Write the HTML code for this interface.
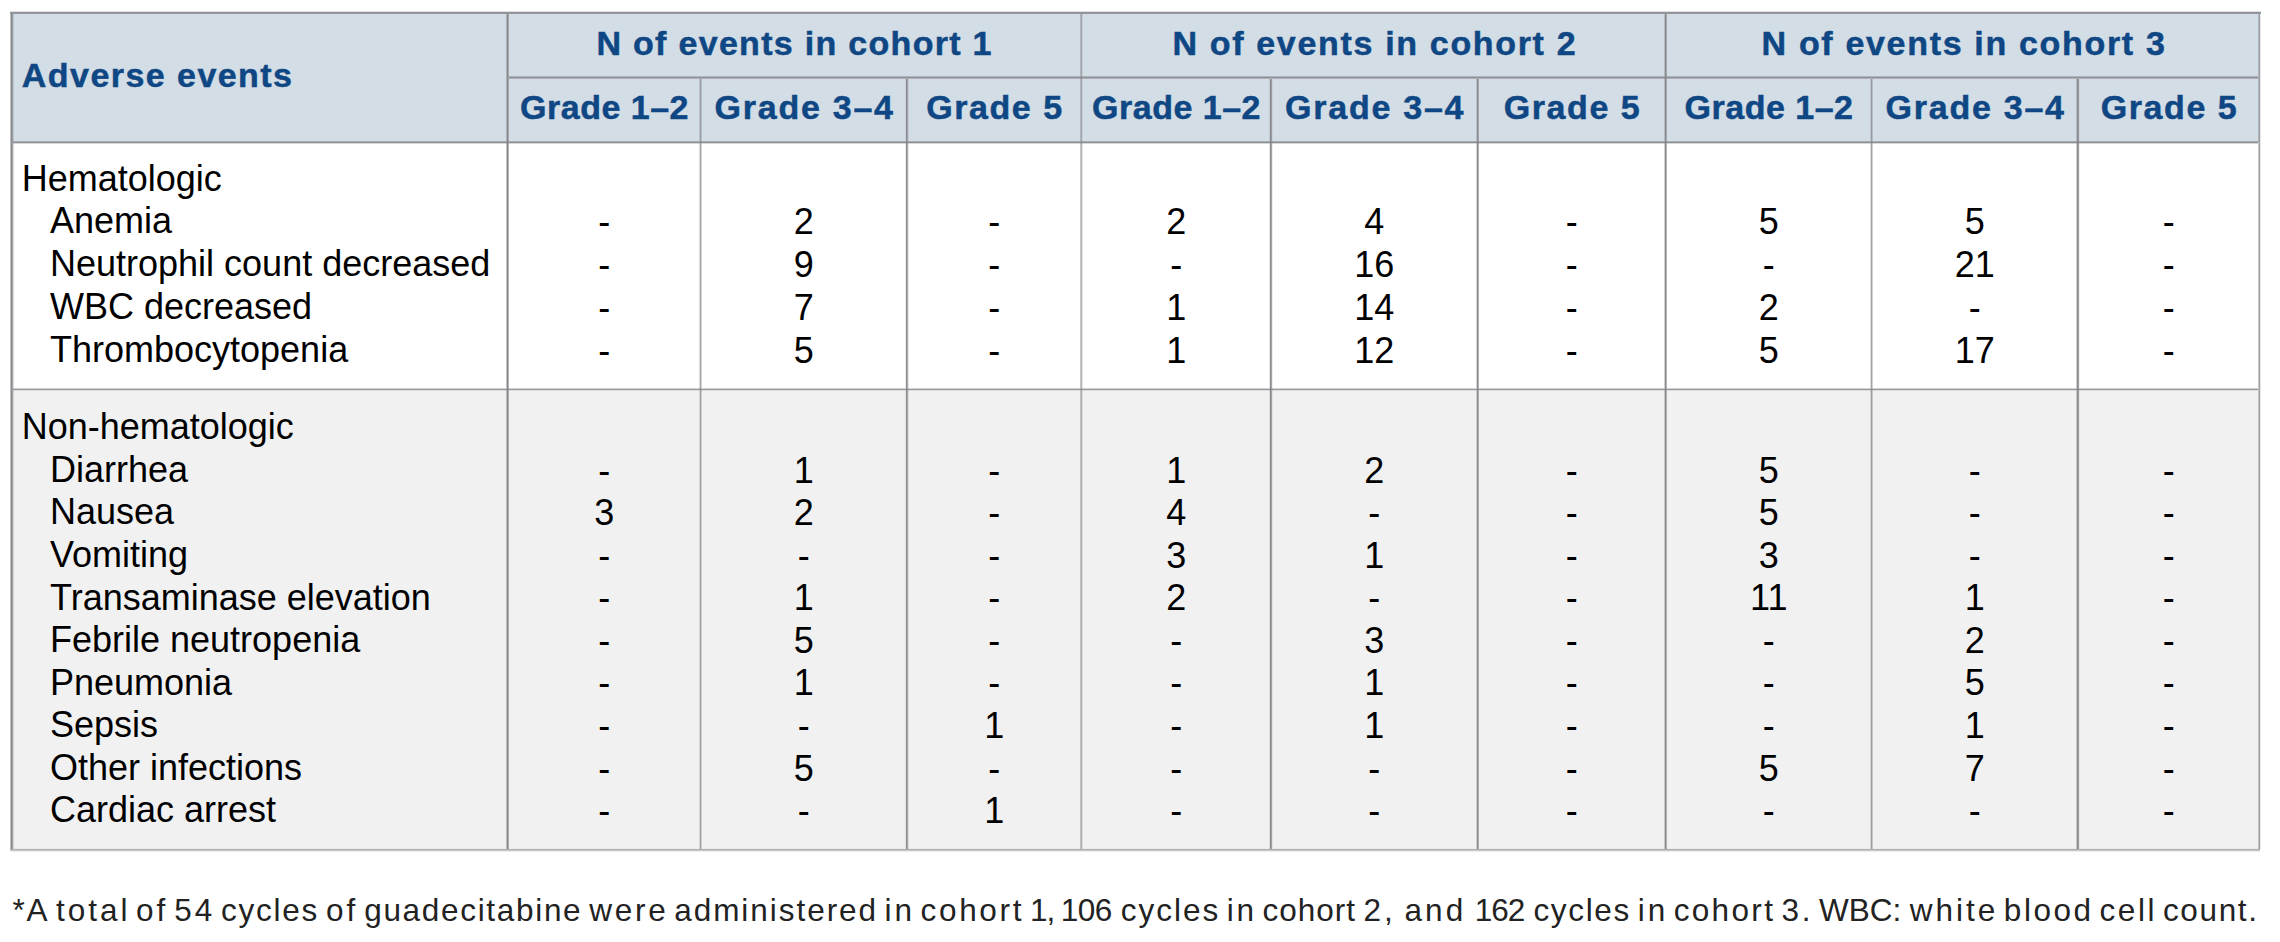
<!DOCTYPE html>
<html><head><meta charset="utf-8"><style>
html,body{margin:0;padding:0;background:#fff;}
body{width:2280px;height:942px;position:relative;overflow:hidden;font-family:"Liberation Sans",sans-serif;}
.t{position:absolute;white-space:nowrap;}
.b{font-size:36px;line-height:40.21px;color:#000;}
.f{font-size:31.5px;line-height:35.19px;color:#222;}
.h{font-size:34px;line-height:37.98px;font-weight:700;color:#0f4784;-webkit-text-stroke:0.5px #0f4784;}
.c{width:1000px;text-align:center;}
</style></head><body>
<div style="position:absolute;left:11px;top:12px;width:2248px;height:130px;background:#d3dde6"></div>
<div style="position:absolute;left:11px;top:389px;width:2248px;height:461px;background:#f1f1f1"></div>
<div style="position:absolute;left:506px;top:14px;width:3px;height:835px;background:linear-gradient(90deg,rgba(134,135,139,0.48) 0px 1px,rgba(134,135,139,1.0) 1px 2px,rgba(134,135,139,0.62) 2px 3px)"></div>
<div style="position:absolute;left:1080px;top:14px;width:3px;height:835px;background:linear-gradient(90deg,rgba(134,135,139,0.46) 0px 1px,rgba(134,135,139,0.63) 1px 2px,rgba(134,135,139,0.19) 2px 3px)"></div>
<div style="position:absolute;left:1664px;top:14px;width:3px;height:835px;background:linear-gradient(90deg,rgba(134,135,139,0.39) 0px 1px,rgba(134,135,139,0.97) 1px 2px,rgba(134,135,139,0.61) 2px 3px)"></div>
<div style="position:absolute;left:699px;top:79px;width:3px;height:770px;background:linear-gradient(90deg,rgba(134,135,139,0.29) 0px 1px,rgba(134,135,139,0.74) 1px 2px,rgba(134,135,139,0.37) 2px 3px)"></div>
<div style="position:absolute;left:905px;top:79px;width:4px;height:770px;background:linear-gradient(90deg,rgba(134,135,139,0.12) 0px 1px,rgba(134,135,139,0.96) 1px 2px,rgba(134,135,139,0.67) 2px 3px,rgba(134,135,139,0.21) 3px 4px)"></div>
<div style="position:absolute;left:1269px;top:79px;width:4px;height:770px;background:linear-gradient(90deg,rgba(134,135,139,0.19) 0px 1px,rgba(134,135,139,0.97) 1px 2px,rgba(134,135,139,0.74) 2px 3px,rgba(134,135,139,0.14) 3px 4px)"></div>
<div style="position:absolute;left:1476px;top:79px;width:3px;height:770px;background:linear-gradient(90deg,rgba(134,135,139,0.32) 0px 1px,rgba(134,135,139,0.97) 1px 2px,rgba(134,135,139,0.65) 2px 3px)"></div>
<div style="position:absolute;left:1870px;top:79px;width:3px;height:770px;background:linear-gradient(90deg,rgba(134,135,139,0.26) 0px 1px,rgba(134,135,139,0.78) 1px 2px,rgba(134,135,139,0.39) 2px 3px)"></div>
<div style="position:absolute;left:2076px;top:79px;width:4px;height:770px;background:linear-gradient(90deg,rgba(134,135,139,0.36) 0px 1px,rgba(134,135,139,0.98) 1px 2px,rgba(134,135,139,0.78) 2px 3px,rgba(134,135,139,0.12) 3px 4px)"></div>
<div style="position:absolute;left:509px;top:76px;width:1749px;height:3px;background:linear-gradient(180deg,rgba(134,135,139,0.48) 0px 1px,rgba(134,135,139,0.87) 1px 2px,rgba(134,135,139,0.52) 2px 3px)"></div>
<div style="position:absolute;left:13px;top:141px;width:2245px;height:3px;background:linear-gradient(180deg,rgba(134,135,139,0.56) 0px 1px,rgba(134,135,139,0.93) 1px 2px,rgba(134,135,139,0.32) 2px 3px)"></div>
<div style="position:absolute;left:13px;top:388px;width:2245px;height:3px;background:linear-gradient(180deg,rgba(134,135,139,0.38) 0px 1px,rgba(134,135,139,0.82) 1px 2px,rgba(134,135,139,0.2) 2px 3px)"></div>
<div style="position:absolute;left:10px;top:11px;width:2251px;height:3px;background:linear-gradient(180deg,rgba(134,135,139,0.26) 0px 1px,rgba(134,135,139,0.87) 1px 2px,rgba(134,135,139,0.81) 2px 3px)"></div>
<div style="position:absolute;left:10px;top:848px;width:2250px;height:4px;background:linear-gradient(180deg,rgba(134,135,139,0.05) 0px 1px,rgba(134,135,139,0.62) 1px 2px,rgba(134,135,139,0.46) 2px 3px,rgba(134,135,139,0.16) 3px 4px)"></div>
<div style="position:absolute;left:10px;top:14px;width:4px;height:835px;background:linear-gradient(90deg,rgba(134,135,139,0.52) 0px 1px,rgba(134,135,139,0.98) 1px 2px,rgba(134,135,139,0.74) 2px 3px,rgba(134,135,139,0.28) 3px 4px)"></div>
<div style="position:absolute;left:2258px;top:14px;width:3px;height:835px;background:linear-gradient(90deg,rgba(134,135,139,0.46) 0px 1px,rgba(134,135,139,0.8) 1px 2px,rgba(134,135,139,0.2) 2px 3px)"></div>
<div class="t h" style="top:55.83px;letter-spacing:1.45px;left:21.80px;">Adverse events</div>
<div class="t h c" style="top:24.33px;letter-spacing:1.3px;left:294.65px;">N of events in cohort 1</div>
<div class="t h c" style="top:24.33px;letter-spacing:1.67px;left:874.84px;">N of events in cohort 2</div>
<div class="t h c" style="top:24.33px;letter-spacing:1.67px;left:1464.04px;">N of events in cohort 3</div>
<div class="t h c" style="top:88.43px;letter-spacing:0.5px;left:104.55px;">Grade 1–2</div>
<div class="t h c" style="top:88.43px;letter-spacing:1.75px;left:304.67px;">Grade 3–4</div>
<div class="t h c" style="top:88.43px;letter-spacing:1.55px;left:495.07px;">Grade 5</div>
<div class="t h c" style="top:88.43px;letter-spacing:0.5px;left:676.55px;">Grade 1–2</div>
<div class="t h c" style="top:88.43px;letter-spacing:1.75px;left:875.17px;">Grade 3–4</div>
<div class="t h c" style="top:88.43px;letter-spacing:1.55px;left:1072.58px;">Grade 5</div>
<div class="t h c" style="top:88.43px;letter-spacing:0.5px;left:1269.05px;">Grade 1–2</div>
<div class="t h c" style="top:88.43px;letter-spacing:1.75px;left:1475.67px;">Grade 3–4</div>
<div class="t h c" style="top:88.43px;letter-spacing:1.55px;left:1669.58px;">Grade 5</div>
<div class="t b" style="top:159.22px;left:21.70px;">Hematologic</div>
<div class="t b" style="top:201.32px;left:50.00px;">Anemia</div>
<div class="t b c" style="top:202.12px;left:104.30px;">-</div>
<div class="t b c" style="top:202.12px;left:303.80px;">2</div>
<div class="t b c" style="top:202.12px;left:494.30px;">-</div>
<div class="t b c" style="top:202.12px;left:676.30px;">2</div>
<div class="t b c" style="top:202.12px;left:874.30px;">4</div>
<div class="t b c" style="top:202.12px;left:1071.80px;">-</div>
<div class="t b c" style="top:202.12px;left:1268.80px;">5</div>
<div class="t b c" style="top:202.12px;left:1474.80px;">5</div>
<div class="t b c" style="top:202.12px;left:1668.80px;">-</div>
<div class="t b" style="top:243.82px;left:50.00px;">Neutrophil count decreased</div>
<div class="t b c" style="top:244.62px;left:104.30px;">-</div>
<div class="t b c" style="top:244.62px;left:303.80px;">9</div>
<div class="t b c" style="top:244.62px;left:494.30px;">-</div>
<div class="t b c" style="top:244.62px;left:676.30px;">-</div>
<div class="t b c" style="top:244.62px;left:874.30px;">16</div>
<div class="t b c" style="top:244.62px;left:1071.80px;">-</div>
<div class="t b c" style="top:244.62px;left:1268.80px;">-</div>
<div class="t b c" style="top:244.62px;left:1474.80px;">21</div>
<div class="t b c" style="top:244.62px;left:1668.80px;">-</div>
<div class="t b" style="top:287.42px;left:50.00px;">WBC decreased</div>
<div class="t b c" style="top:288.22px;left:104.30px;">-</div>
<div class="t b c" style="top:288.22px;left:303.80px;">7</div>
<div class="t b c" style="top:288.22px;left:494.30px;">-</div>
<div class="t b c" style="top:288.22px;left:676.30px;">1</div>
<div class="t b c" style="top:288.22px;left:874.30px;">14</div>
<div class="t b c" style="top:288.22px;left:1071.80px;">-</div>
<div class="t b c" style="top:288.22px;left:1268.80px;">2</div>
<div class="t b c" style="top:288.22px;left:1474.80px;">-</div>
<div class="t b c" style="top:288.22px;left:1668.80px;">-</div>
<div class="t b" style="top:329.82px;left:50.00px;">Thrombocytopenia</div>
<div class="t b c" style="top:330.62px;left:104.30px;">-</div>
<div class="t b c" style="top:330.62px;left:303.80px;">5</div>
<div class="t b c" style="top:330.62px;left:494.30px;">-</div>
<div class="t b c" style="top:330.62px;left:676.30px;">1</div>
<div class="t b c" style="top:330.62px;left:874.30px;">12</div>
<div class="t b c" style="top:330.62px;left:1071.80px;">-</div>
<div class="t b c" style="top:330.62px;left:1268.80px;">5</div>
<div class="t b c" style="top:330.62px;left:1474.80px;">17</div>
<div class="t b c" style="top:330.62px;left:1668.80px;">-</div>
<div class="t b" style="top:407.32px;left:21.70px;">Non-hematologic</div>
<div class="t b" style="top:449.87px;left:50.00px;">Diarrhea</div>
<div class="t b c" style="top:450.67px;left:104.30px;">-</div>
<div class="t b c" style="top:450.67px;left:303.80px;">1</div>
<div class="t b c" style="top:450.67px;left:494.30px;">-</div>
<div class="t b c" style="top:450.67px;left:676.30px;">1</div>
<div class="t b c" style="top:450.67px;left:874.30px;">2</div>
<div class="t b c" style="top:450.67px;left:1071.80px;">-</div>
<div class="t b c" style="top:450.67px;left:1268.80px;">5</div>
<div class="t b c" style="top:450.67px;left:1474.80px;">-</div>
<div class="t b c" style="top:450.67px;left:1668.80px;">-</div>
<div class="t b" style="top:492.42px;left:50.00px;">Nausea</div>
<div class="t b c" style="top:493.22px;left:104.30px;">3</div>
<div class="t b c" style="top:493.22px;left:303.80px;">2</div>
<div class="t b c" style="top:493.22px;left:494.30px;">-</div>
<div class="t b c" style="top:493.22px;left:676.30px;">4</div>
<div class="t b c" style="top:493.22px;left:874.30px;">-</div>
<div class="t b c" style="top:493.22px;left:1071.80px;">-</div>
<div class="t b c" style="top:493.22px;left:1268.80px;">5</div>
<div class="t b c" style="top:493.22px;left:1474.80px;">-</div>
<div class="t b c" style="top:493.22px;left:1668.80px;">-</div>
<div class="t b" style="top:534.97px;left:50.00px;">Vomiting</div>
<div class="t b c" style="top:535.77px;left:104.30px;">-</div>
<div class="t b c" style="top:535.77px;left:303.80px;">-</div>
<div class="t b c" style="top:535.77px;left:494.30px;">-</div>
<div class="t b c" style="top:535.77px;left:676.30px;">3</div>
<div class="t b c" style="top:535.77px;left:874.30px;">1</div>
<div class="t b c" style="top:535.77px;left:1071.80px;">-</div>
<div class="t b c" style="top:535.77px;left:1268.80px;">3</div>
<div class="t b c" style="top:535.77px;left:1474.80px;">-</div>
<div class="t b c" style="top:535.77px;left:1668.80px;">-</div>
<div class="t b" style="top:577.52px;left:50.00px;">Transaminase elevation</div>
<div class="t b c" style="top:578.32px;left:104.30px;">-</div>
<div class="t b c" style="top:578.32px;left:303.80px;">1</div>
<div class="t b c" style="top:578.32px;left:494.30px;">-</div>
<div class="t b c" style="top:578.32px;left:676.30px;">2</div>
<div class="t b c" style="top:578.32px;left:874.30px;">-</div>
<div class="t b c" style="top:578.32px;left:1071.80px;">-</div>
<div class="t b c" style="top:578.32px;left:1268.80px;">11</div>
<div class="t b c" style="top:578.32px;left:1474.80px;">1</div>
<div class="t b c" style="top:578.32px;left:1668.80px;">-</div>
<div class="t b" style="top:620.07px;left:50.00px;">Febrile neutropenia</div>
<div class="t b c" style="top:620.87px;left:104.30px;">-</div>
<div class="t b c" style="top:620.87px;left:303.80px;">5</div>
<div class="t b c" style="top:620.87px;left:494.30px;">-</div>
<div class="t b c" style="top:620.87px;left:676.30px;">-</div>
<div class="t b c" style="top:620.87px;left:874.30px;">3</div>
<div class="t b c" style="top:620.87px;left:1071.80px;">-</div>
<div class="t b c" style="top:620.87px;left:1268.80px;">-</div>
<div class="t b c" style="top:620.87px;left:1474.80px;">2</div>
<div class="t b c" style="top:620.87px;left:1668.80px;">-</div>
<div class="t b" style="top:662.62px;left:50.00px;">Pneumonia</div>
<div class="t b c" style="top:663.42px;left:104.30px;">-</div>
<div class="t b c" style="top:663.42px;left:303.80px;">1</div>
<div class="t b c" style="top:663.42px;left:494.30px;">-</div>
<div class="t b c" style="top:663.42px;left:676.30px;">-</div>
<div class="t b c" style="top:663.42px;left:874.30px;">1</div>
<div class="t b c" style="top:663.42px;left:1071.80px;">-</div>
<div class="t b c" style="top:663.42px;left:1268.80px;">-</div>
<div class="t b c" style="top:663.42px;left:1474.80px;">5</div>
<div class="t b c" style="top:663.42px;left:1668.80px;">-</div>
<div class="t b" style="top:705.17px;left:50.00px;">Sepsis</div>
<div class="t b c" style="top:705.97px;left:104.30px;">-</div>
<div class="t b c" style="top:705.97px;left:303.80px;">-</div>
<div class="t b c" style="top:705.97px;left:494.30px;">1</div>
<div class="t b c" style="top:705.97px;left:676.30px;">-</div>
<div class="t b c" style="top:705.97px;left:874.30px;">1</div>
<div class="t b c" style="top:705.97px;left:1071.80px;">-</div>
<div class="t b c" style="top:705.97px;left:1268.80px;">-</div>
<div class="t b c" style="top:705.97px;left:1474.80px;">1</div>
<div class="t b c" style="top:705.97px;left:1668.80px;">-</div>
<div class="t b" style="top:747.72px;left:50.00px;">Other infections</div>
<div class="t b c" style="top:748.52px;left:104.30px;">-</div>
<div class="t b c" style="top:748.52px;left:303.80px;">5</div>
<div class="t b c" style="top:748.52px;left:494.30px;">-</div>
<div class="t b c" style="top:748.52px;left:676.30px;">-</div>
<div class="t b c" style="top:748.52px;left:874.30px;">-</div>
<div class="t b c" style="top:748.52px;left:1071.80px;">-</div>
<div class="t b c" style="top:748.52px;left:1268.80px;">5</div>
<div class="t b c" style="top:748.52px;left:1474.80px;">7</div>
<div class="t b c" style="top:748.52px;left:1668.80px;">-</div>
<div class="t b" style="top:790.27px;left:50.00px;">Cardiac arrest</div>
<div class="t b c" style="top:791.07px;left:104.30px;">-</div>
<div class="t b c" style="top:791.07px;left:303.80px;">-</div>
<div class="t b c" style="top:791.07px;left:494.30px;">1</div>
<div class="t b c" style="top:791.07px;left:676.30px;">-</div>
<div class="t b c" style="top:791.07px;left:874.30px;">-</div>
<div class="t b c" style="top:791.07px;left:1071.80px;">-</div>
<div class="t b c" style="top:791.07px;left:1268.80px;">-</div>
<div class="t b c" style="top:791.07px;left:1474.80px;">-</div>
<div class="t b c" style="top:791.07px;left:1668.80px;">-</div>
<div class="t f" style="top:893.19px;letter-spacing:1.62px;left:12.50px;">*A</div>
<div class="t f" style="top:893.19px;letter-spacing:2.99px;left:55.90px;">total</div>
<div class="t f" style="top:893.19px;letter-spacing:3.0px;left:135.90px;">of</div>
<div class="t f" style="top:893.19px;letter-spacing:3.0px;left:174.20px;">54</div>
<div class="t f" style="top:893.19px;letter-spacing:1.79px;left:220.90px;">cycles</div>
<div class="t f" style="top:893.19px;letter-spacing:3.0px;left:325.90px;">of</div>
<div class="t f" style="top:893.19px;letter-spacing:1.69px;left:364.20px;">guadecitabine</div>
<div class="t f" style="top:893.19px;letter-spacing:2.74px;left:589.20px;">were</div>
<div class="t f" style="top:893.19px;letter-spacing:1.96px;left:674.20px;">administered</div>
<div class="t f" style="top:893.19px;letter-spacing:2.87px;left:884.60px;">in</div>
<div class="t f" style="top:893.19px;letter-spacing:2.69px;left:920.50px;">cohort</div>
<div class="t f" style="top:893.19px;letter-spacing:-1.0px;left:1030.00px;">1,</div>
<div class="t f" style="top:893.19px;letter-spacing:-0.58px;left:1060.80px;">106</div>
<div class="t f" style="top:893.19px;letter-spacing:1.99px;left:1120.70px;">cycles</div>
<div class="t f" style="top:893.19px;letter-spacing:2.87px;left:1226.70px;">in</div>
<div class="t f" style="top:893.19px;letter-spacing:0.99px;left:1262.60px;">cohort</div>
<div class="t f" style="top:893.19px;letter-spacing:3.0px;left:1363.60px;">2,</div>
<div class="t f" style="top:893.19px;letter-spacing:3.0px;left:1404.60px;">and</div>
<div class="t f" style="top:893.19px;letter-spacing:-1.0px;left:1474.70px;">162</div>
<div class="t f" style="top:893.19px;letter-spacing:1.67px;left:1533.40px;">cycles</div>
<div class="t f" style="top:893.19px;letter-spacing:2.87px;left:1637.80px;">in</div>
<div class="t f" style="top:893.19px;letter-spacing:2.33px;left:1673.70px;">cohort</div>
<div class="t f" style="top:893.19px;letter-spacing:2.92px;left:1781.40px;">3.</div>
<div class="t f" style="top:893.19px;letter-spacing:-0.05px;left:1819.10px;">WBC:</div>
<div class="t f" style="top:893.19px;letter-spacing:3.0px;left:1909.70px;">white</div>
<div class="t f" style="top:893.19px;letter-spacing:2.56px;left:2003.80px;">blood</div>
<div class="t f" style="top:893.19px;letter-spacing:2.51px;left:2099.60px;">cell</div>
<div class="t f" style="top:893.19px;letter-spacing:1.66px;left:2162.90px;">count.</div>
</body></html>
